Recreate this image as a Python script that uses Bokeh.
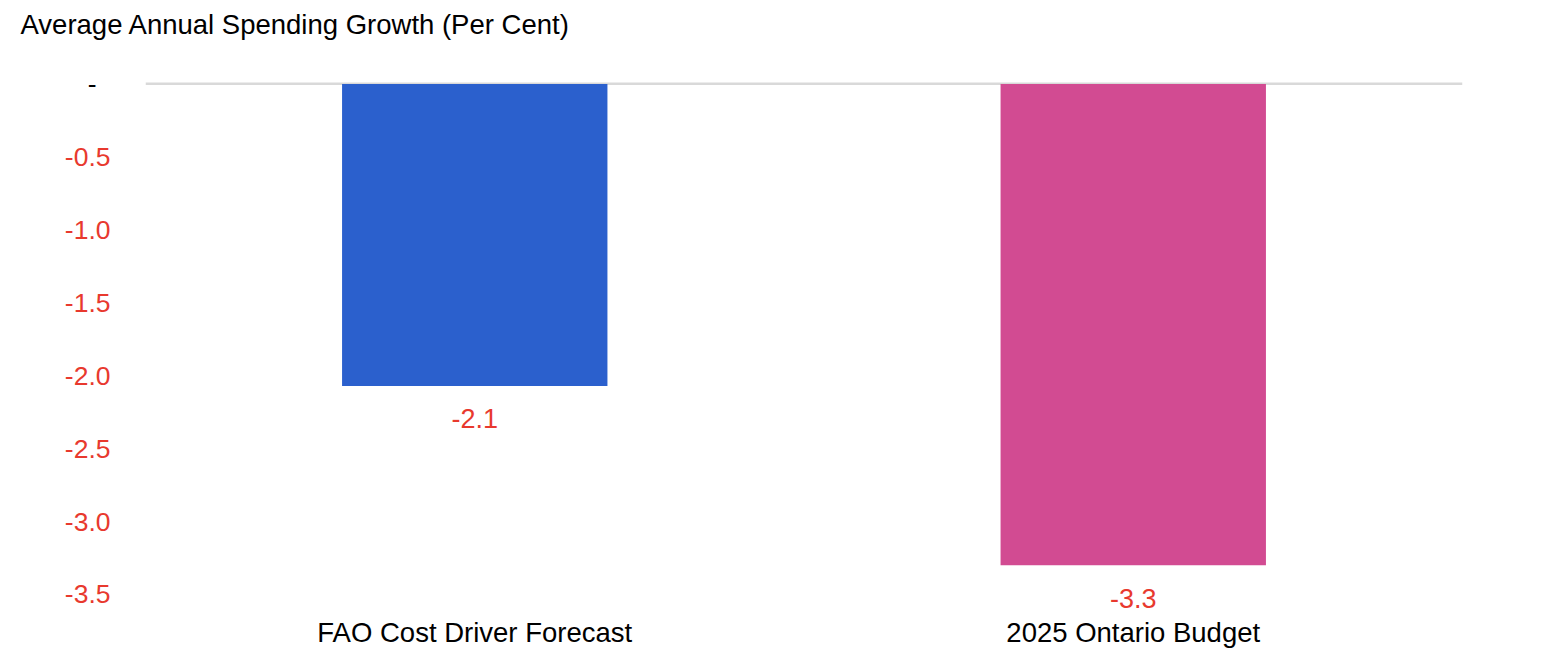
from bokeh.plotting import figure
from bokeh.models import (ColumnDataSource, FixedTicker, LabelSet, LinearAxis, Title,
                          NumeralTickFormatter, FactorRange)
from bokeh.core.properties import value
from bokeh.embed import file_html
from bokeh.resources import INLINE

categories = ["FAO Cost Driver Forecast", "2025 Ontario Budget"]
values = [-2.07, -3.3]
value_labels = ["-2.1", "-3.3"]
bar_colors = ["#2B60CD", "#D24B92"]
y_ticks = [-3.5, -3.0, -2.5, -2.0, -1.5, -1.0, -0.5]
zero_tick = [0.0]
title_text = "Average Annual Spending Growth (Per Cent)"

FONT = "Liberation Sans"
RED = "#E8392E"

src = ColumnDataSource(dict(cat=categories, val=values, lab=value_labels, color=bar_colors))

p = figure(x_range=FactorRange(*categories, range_padding=0), y_range=(-3.61, 0.01),
           width=1532, height=650, output_backend="svg", toolbar_location=None,
           min_border_left=145, min_border_right=70, min_border_top=82, min_border_bottom=40)

p.title.text = title_text
p.title.text_font = FONT
p.title.text_font_size = "27.5px"
p.title.text_font_style = "normal"
p.title.text_color = "#000000"
p.title.align = "left"
p.title.offset = -125
p.title.standoff = 0

spacer = Title(text=" ", text_font_size="10px", standoff=30)
p.add_layout(spacer, "above")

p.vbar(x="cat", top="val", bottom=0, width=0.403, color="color", source=src, line_color=None)

labels = LabelSet(x="cat", y="val", text="lab", source=src, text_align="center",
                  text_baseline="middle", y_offset=-33, text_color=RED,
                  text_font=value(FONT), text_font_size="27px")
p.add_layout(labels)

p.outline_line_color = None
p.xgrid.grid_line_color = None
p.ygrid.ticker = FixedTicker(ticks=zero_tick)
p.ygrid.grid_line_color = "#D9D9D9"
p.ygrid.grid_line_width = 3

p.yaxis.ticker = FixedTicker(ticks=y_ticks)
p.yaxis.formatter = NumeralTickFormatter(format="0.0")
p.yaxis.axis_line_color = None
p.yaxis.major_tick_line_color = None
p.yaxis.minor_tick_line_color = None
p.yaxis.major_label_text_color = RED
p.yaxis.major_label_text_font = FONT
p.yaxis.major_label_text_font_size = "26.5px"
p.yaxis.major_label_standoff = 29

zero_axis = LinearAxis(ticker=FixedTicker(ticks=zero_tick), major_label_overrides={0: "-"},
                       axis_line_color=None, major_tick_line_color=None, minor_tick_line_color=None,
                       major_label_text_color="#000000", major_label_text_font=FONT,
                       major_label_text_font_size="26.5px", major_label_standoff=-41)
p.add_layout(zero_axis, "left")

p.xaxis.axis_line_color = None
p.xaxis.major_tick_line_color = None
p.xaxis.minor_tick_line_color = None
p.xaxis.major_label_text_color = "#000000"
p.xaxis.major_label_text_font = FONT
p.xaxis.major_label_text_font_size = "27.5px"
p.xaxis.major_label_standoff = 0

open("out.html", "w").write(file_html(p, INLINE))
